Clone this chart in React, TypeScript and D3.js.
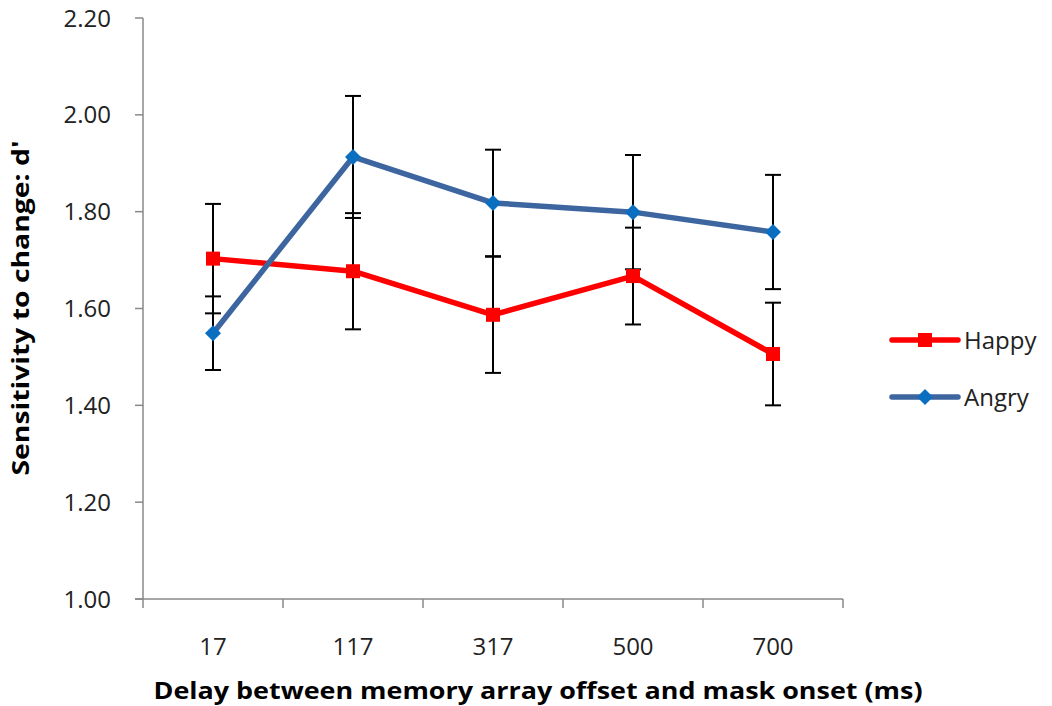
import React from "react";
import * as d3 from "d3";

const delays = ["17", "117", "317", "500", "700"];
const happy = [1.703, 1.677, 1.587, 1.667, 1.506];
const happyErr = [0.113, 0.12, 0.12, 0.1, 0.106];
const angry = [1.549, 1.913, 1.818, 1.799, 1.758];
const angryErr = [0.076, 0.126, 0.11, 0.118, 0.118];
const yTicks = [1.0, 1.2, 1.4, 1.6, 1.8, 2.0, 2.2];

const W = 1052;
const H = 706;
const left = 143;
const right = 843;
const top = 18;
const bottom = 599;
const font = "'Open Sans', 'Noto Sans', sans-serif";

export default function App() {
  const x = d3.scaleBand<string>().domain(delays).range([left, right]);
  const y = d3.scaleLinear().domain([1.0, 2.2]).range([bottom, top]);
  const cx = (d: string) => (x(d) as number) + x.bandwidth() / 2;
  const line = d3
    .line<number>()
    .x((_, i) => cx(delays[i]))
    .y((v) => y(v));

  const series = [
    { name: "Happy", vals: happy, err: happyErr, color: "#ff0000", marker: "square" },
    { name: "Angry", vals: angry, err: angryErr, color: "#3d66a0", marker: "diamond" },
  ];

  const marker = (m: string, px: number, py: number, key: string) =>
    m === "square" ? (
      <rect key={key} x={px - 7} y={py - 7} width={14} height={14} fill="#ff0000" />
    ) : (
      <path
        key={key}
        d={`M${px},${py - 8}L${px + 8},${py}L${px},${py + 8}L${px - 8},${py}Z`}
        fill="#0a6fc0"
      />
    );

  return (
    <svg
      width={W}
      height={H}
      style={{ position: "absolute", left: 0, top: 0, background: "#fff" }}
    >
      {/* y axis */}
      <line x1={left} x2={left} y1={top} y2={bottom} stroke="#888" strokeWidth={1.5} />
      {yTicks.map((t) => (
        <g key={t}>
          <line x1={left - 8} x2={left} y1={y(t)} y2={y(t)} stroke="#888" strokeWidth={1.5} />
          <text
            x={111}
            y={y(t)}
            dy="0.36em"
            textAnchor="end"
            fontFamily={font}
            fontSize={24}
            fill="#222"
          >
            {t.toFixed(2)}
          </text>
        </g>
      ))}
      {/* x axis */}
      <line x1={left - 8} x2={right} y1={bottom} y2={bottom} stroke="#888" strokeWidth={1.5} />
      {[...delays.map((d) => x(d) as number), right].map((p, i) => (
        <line key={i} x1={p} x2={p} y1={bottom} y2={bottom + 9} stroke="#888" strokeWidth={1.5} />
      ))}
      {delays.map((d) => (
        <text
          key={d}
          x={cx(d)}
          y={646}
          dy="0.36em"
          textAnchor="middle"
          fontFamily={font}
          fontSize={24}
          fill="#222"
        >
          {d}
        </text>
      ))}

      {/* error bars */}
      {series.map((s) =>
        s.vals.map((v, i) => {
          const px = cx(delays[i]);
          const y0 = y(v - s.err[i]);
          const y1 = y(v + s.err[i]);
          return (
            <g key={s.name + i} stroke="#000" strokeWidth={2}>
              <line x1={px} x2={px} y1={y0} y2={y1} />
              <line x1={px - 8} x2={px + 8} y1={y0} y2={y0} />
              <line x1={px - 8} x2={px + 8} y1={y1} y2={y1} />
            </g>
          );
        })
      )}

      {/* series lines and markers */}
      {series.map((s) => (
        <g key={s.name}>
          <path d={line(s.vals) || ""} fill="none" stroke={s.color} strokeWidth={5.5} strokeLinejoin="round" />
          {s.vals.map((v, i) => marker(s.marker, cx(delays[i]), y(v), s.name + "m" + i))}
        </g>
      ))}

      {/* legend */}
      {series.map((s, i) => {
        const ly = 340 + i * 57;
        return (
          <g key={"lg" + s.name}>
            <line x1={892} x2={958} y1={ly} y2={ly} stroke={s.color} strokeWidth={5.5} strokeLinecap="round" />
            {marker(s.marker, 925, ly, "lgm" + i)}
            <text x={964} y={ly} dy="0.36em" fontFamily={font} fontSize={24} fill="#222">
              {s.name}
            </text>
          </g>
        );
      })}

      {/* axis titles */}
      <text
        transform={`translate(21,${308}) rotate(-90)`}
        textAnchor="middle"
        dy="0.36em"
        fontFamily={font}
        fontSize={23}
        fontWeight="bold"
        fill="#000"
        textLength={335}
        lengthAdjust="spacingAndGlyphs"
      >
        Sensitivity to change: d'
      </text>
      <text
        x={538}
        y={690}
        dy="0.36em"
        textAnchor="middle"
        fontFamily={font}
        fontSize={24}
        fontWeight="bold"
        fill="#000"
        textLength={769}
        lengthAdjust="spacingAndGlyphs"
      >
        Delay between memory array offset and mask onset (ms)
      </text>
    </svg>
  );
}
